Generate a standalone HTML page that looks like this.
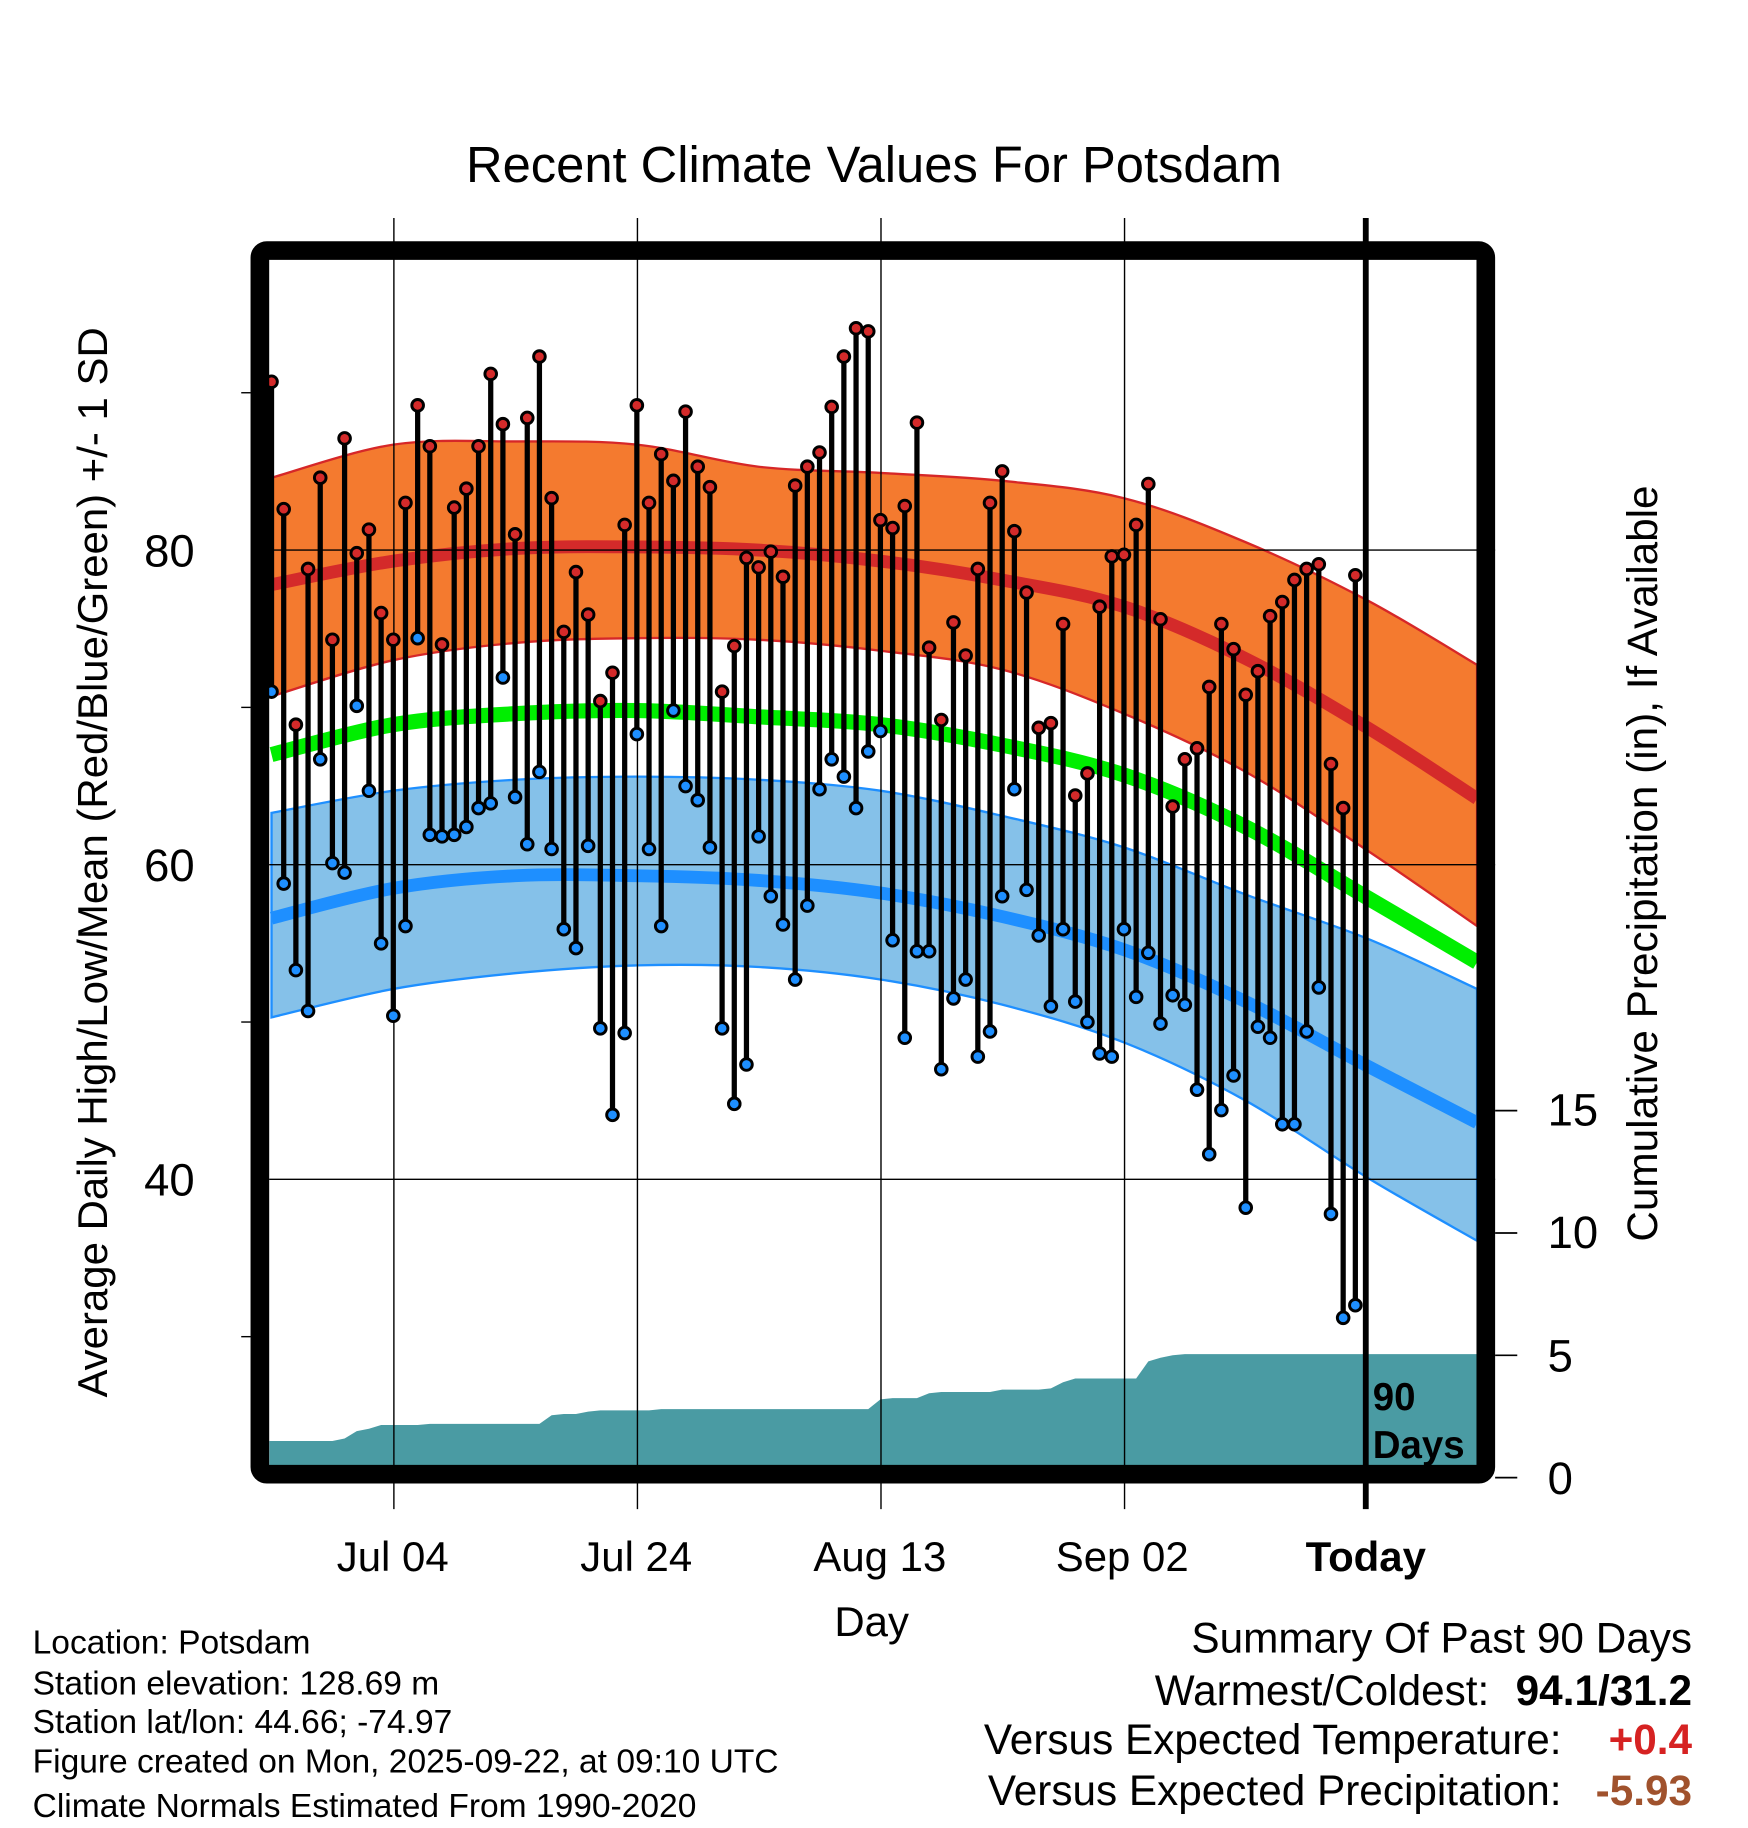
<!DOCTYPE html>
<html><head><meta charset="utf-8"><style>
html,body{margin:0;padding:0;background:#fff}
svg{display:block}
text{font-family:"Liberation Sans",sans-serif}
</style></head><body>
<svg id="chart" width="1748" height="1828" viewBox="0 0 1500 1568.6" xmlns="http://www.w3.org/2000/svg">
<text x="750" y="156" font-size="43.5" text-anchor="middle">Recent Climate Values For Potsdam</text>
<g id="plot"></g>
<g font-size="39" text-anchor="end">
<text x="167" y="486">80</text><text x="167" y="756">60</text><text x="167" y="1026">40</text>
</g>
<text transform="translate(92,740) rotate(-90)" font-size="36" text-anchor="middle">Average Daily High/Low/Mean (Red/Blue/Green) +/- 1 SD</text>
<g font-size="39">
<text x="1328" y="1282">0</text><text x="1328" y="1177">5</text><text x="1328" y="1071">10</text><text x="1328" y="966">15</text>
</g>
<text transform="translate(1422,741) rotate(-90)" font-size="36.3" text-anchor="middle">Cumulative Precipitation (in), If Available</text>
<g font-size="36" text-anchor="middle">
<text x="337" y="1348">Jul 04</text><text x="546" y="1348">Jul 24</text><text x="755" y="1348">Aug 13</text><text x="963" y="1348">Sep 02</text><text x="1172" y="1348" font-weight="bold">Today</text>
</g>
<text x="748" y="1404" font-size="36" text-anchor="middle">Day</text>
<g font-size="28.8">
<text x="28" y="1419">Location: Potsdam</text>
<text x="28" y="1454">Station elevation: 128.69 m</text>
<text x="28" y="1487">Station lat/lon: 44.66; -74.97</text>
<text x="28" y="1521">Figure created on Mon, 2025-09-22, at 09:10 UTC</text>
<text x="28" y="1559">Climate Normals Estimated From 1990-2020</text>
</g>
<g font-size="36.3" text-anchor="end">
<text x="1452" y="1418">Summary Of Past 90 Days</text>
<text x="1278" y="1463">Warmest/Coldest:</text>
<text x="1452" y="1463" font-weight="bold">94.1/31.2</text>
<text x="1340" y="1505">Versus Expected Temperature:</text>
<text x="1452" y="1505" font-weight="bold" fill="#d62222">+0.4</text>
<text x="1340" y="1549">Versus Expected Precipitation:</text>
<text x="1452" y="1549" font-weight="bold" fill="#a0522d">-5.93</text>
</g>
</svg>
<script>
const highs=[90.7,82.6,68.9,78.8,84.6,74.3,87.1,79.8,81.3,76.0,74.3,83.0,89.2,86.6,74.0,82.7,83.9,86.6,91.2,88.0,81.0,88.4,92.3,83.3,74.8,78.6,75.9,70.4,72.2,81.6,89.2,83.0,86.1,84.4,88.8,85.3,84.0,71.0,73.9,79.5,78.9,79.9,78.3,84.1,85.3,86.2,89.1,92.3,94.1,93.9,81.9,81.4,82.8,88.1,73.8,69.2,75.4,73.3,78.8,83.0,85.0,81.2,77.3,68.7,69.0,75.3,64.4,65.8,76.4,79.6,79.7,81.6,84.2,75.6,63.7,66.7,67.4,71.3,75.3,73.7,70.8,72.3,75.8,76.7,78.1,78.8,79.1,66.4,63.6,78.4];
const lows=[71.0,58.8,53.3,50.7,66.7,60.1,59.5,70.1,64.7,55.0,50.4,56.1,74.4,61.9,61.8,61.9,62.4,63.6,63.9,71.9,64.3,61.3,65.9,61.0,55.9,54.7,61.2,49.6,44.1,49.3,68.3,61.0,56.1,69.8,65.0,64.1,61.1,49.6,44.8,47.3,61.8,58.0,56.2,52.7,57.4,64.8,66.7,65.6,63.6,67.2,68.5,55.2,49.0,54.5,54.5,47.0,51.5,52.7,47.8,49.4,58.0,64.8,58.4,55.5,51.0,55.9,51.3,50.0,48.0,47.8,55.9,51.6,54.4,49.9,51.7,51.1,45.7,41.6,44.4,46.6,38.2,49.7,49.0,43.5,43.5,49.4,52.2,37.8,31.2,32.0];
const precip=[1.5,1.5,1.5,1.5,1.5,1.5,1.6,1.9,2.0,2.15,2.15,2.15,2.15,2.2,2.2,2.2,2.2,2.2,2.2,2.2,2.2,2.2,2.2,2.55,2.6,2.6,2.7,2.75,2.75,2.75,2.75,2.75,2.8,2.8,2.8,2.8,2.8,2.8,2.8,2.8,2.8,2.8,2.8,2.8,2.8,2.8,2.8,2.8,2.8,2.8,3.2,3.25,3.25,3.25,3.45,3.5,3.5,3.5,3.5,3.5,3.6,3.6,3.6,3.6,3.65,3.9,4.05,4.05,4.05,4.05,4.05,4.05,4.75,4.9,5.0,5.05,5.05,5.05,5.05,5.05,5.05,5.05,5.05,5.05,5.05,5.05,5.05,5.05,5.05,5.05];
const normDays=[0,10,20,30,40,50,60,70,80,90,99];
const normHigh=[77.8,79.3,80.1,80.2,80.0,79.3,78.1,76.4,73.1,68.7,64.2];
const highUpper=[84.6,86.7,86.9,86.7,85.3,84.9,84.4,83.3,80.5,76.8,72.7];
const highLower=[70.7,73.0,74.1,74.4,74.3,73.6,72.4,69.6,65.9,60.9,56.1];
const normMean=[67.0,68.9,69.6,69.8,69.4,68.9,67.6,65.7,62.4,57.9,53.8];
const normLow=[56.6,58.5,59.3,59.3,59.0,58.2,56.7,54.6,51.3,47.2,43.6];
const lowUpper=[63.3,64.7,65.4,65.6,65.4,64.7,63.1,61.1,58.1,55.3,52.1];
const lowLower=[50.3,52.1,53.1,53.6,53.5,52.7,51.1,48.7,45.0,40.1,36.1];

const NS="http://www.w3.org/2000/svg";
const X=d=>233+10.45*d;
const Y=t=>472-(t-80)*13.5;
const P=p=>1268-21*p;
const L=231,R=1268,T=222,B=1259;
const plot=document.getElementById('plot');
function mk(tag,attrs,parent){const e=document.createElementNS(NS,tag);for(const k in attrs)e.setAttribute(k,attrs[k]);(parent||plot).appendChild(e);return e;}
const defs=mk('defs',{});
const cp=mk('clipPath',{id:'clip'},defs);mk('rect',{x:L,y:T,width:R-L,height:B-T},cp);
const g=mk('g',{'clip-path':'url(#clip)'});


function pts(arr){return arr.map((v,i)=>[X(normDays[i]),Y(v)]);}
function smooth(p,start){
  let d=(start?'M':'L')+p[0][0].toFixed(1)+','+p[0][1].toFixed(1);
  for(let i=0;i<p.length-1;i++){
    const p0=p[Math.max(i-1,0)],p1=p[i],p2=p[i+1],p3=p[Math.min(i+2,p.length-1)];
    const c1=[p1[0]+(p2[0]-p0[0])/6,p1[1]+(p2[1]-p0[1])/6];
    const c2=[p2[0]-(p3[0]-p1[0])/6,p2[1]-(p3[1]-p1[1])/6];
    d+=' C'+c1.map(v=>v.toFixed(1)).join(',')+' '+c2.map(v=>v.toFixed(1)).join(',')+' '+p2[0].toFixed(1)+','+p2[1].toFixed(1);
  }
  return d;
}
function line(arr){return smooth(pts(arr),true);}
function band(up,lo){return smooth(pts(up),true)+' '+smooth(pts(lo).reverse(),false)+' Z';}
let pd='M'+L+','+(B+10)+' L'+L+','+P(precip[0]);
precip.forEach((p,i)=>{pd+=' L'+X(i)+','+P(p);});
pd+=' L'+R+','+P(precip[precip.length-1])+' L'+R+','+(B+10)+' Z';
const pa=mk('path',{d:pd,fill:'#4a9ba3'},g);


const hb=mk('path',{d:band(highUpper,highLower),fill:'#f47a2f',stroke:'#d62728','stroke-width':2},g);


const lb=mk('path',{d:band(lowUpper,lowLower),fill:'#85c1e9',stroke:'#1e8fff','stroke-width':2},g);


const hl=mk('path',{d:line(normHigh),fill:'none',stroke:'#d42a2a','stroke-width':11},g);


const ml=mk('path',{d:line(normMean),fill:'none',stroke:'#00ee00','stroke-width':13},g);


const ll=mk('path',{d:line(normLow),fill:'none',stroke:'#1e8fff','stroke-width':11},g);


[80,60,40].forEach(t=>{const e=mk('line',{x1:L,x2:1283,y1:Y(t),y2:Y(t),stroke:'#000','stroke-width':1.2});

});
[10,30,50,70].forEach(d=>{const e=mk('line',{x1:X(d)+0.5,x2:X(d)+0.5,y1:187,y2:1295,stroke:'#000','stroke-width':1.2});

});
highs.forEach((h,i)=>{
 const b=mk('line',{x1:X(i),x2:X(i),y1:Y(h),y2:Y(lows[i]),stroke:'#000','stroke-width':4.5});
 
 
});
highs.forEach((h,i)=>{
 const c1=mk('circle',{cx:X(i),cy:Y(h),r:5,fill:'#d42a2a',stroke:'#000','stroke-width':2.5});
 
 
 const c2=mk('circle',{cx:X(i),cy:Y(lows[i]),r:5,fill:'#1e8fff',stroke:'#000','stroke-width':2.5});
 
 
});
const tl=mk('line',{x1:1172,x2:1172,y1:187,y2:1295,stroke:'#000','stroke-width':5});


const t1=mk('text',{x:1178,y:1210,'font-size':33,'font-weight':'bold'});t1.textContent='90';


const t2=mk('text',{x:1178,y:1251,'font-size':33,'font-weight':'bold'});t2.textContent='Days';


const fr=mk('rect',{x:223,y:215,width:1052,height:1050,rx:6,fill:'none',stroke:'#000','stroke-width':16});


[90,70,50,30].forEach(t=>{const e=mk('line',{x1:207,x2:215,y1:Y(t),y2:Y(t),stroke:'#000','stroke-width':1.2});

});
[0,5,10,15].forEach(p=>{const e=mk('line',{x1:1283,x2:1302,y1:P(p),y2:P(p),stroke:'#000','stroke-width':1.5});

});
</script>
</body></html>
